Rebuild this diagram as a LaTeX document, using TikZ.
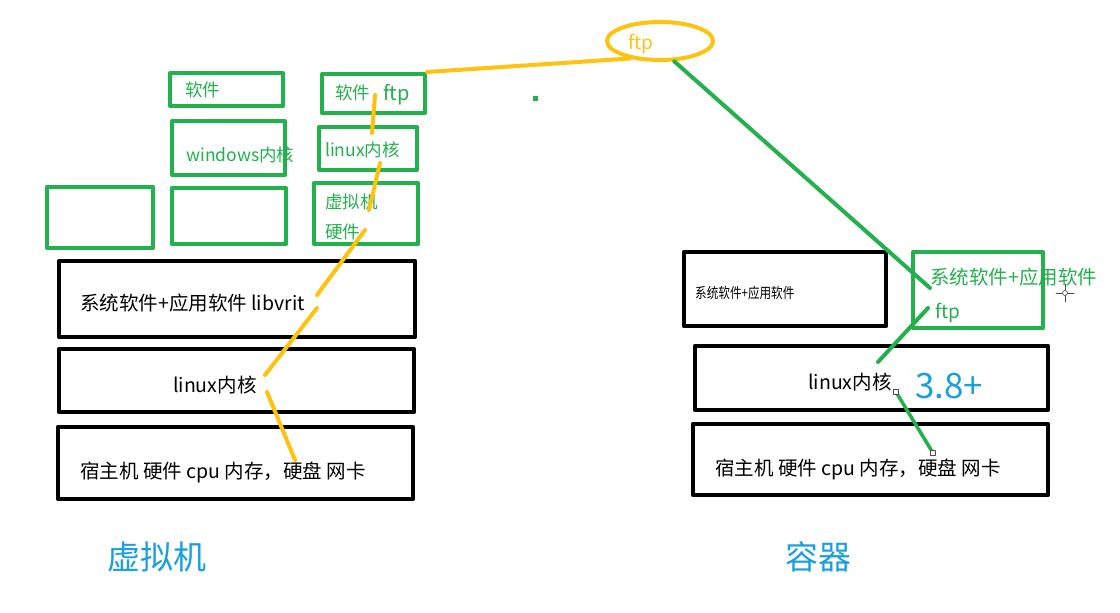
\documentclass[tikz,border=0pt]{standalone}
\usepackage{fontspec}
\setmainfont{Noto Sans CJK SC}
\usepackage{xcolor}
\usepackage{tikz}
\usetikzlibrary{positioning,shapes.geometric}

\definecolor{pgreen}{HTML}{22B14C}
\definecolor{pgold}{HTML}{FFC20E}
\definecolor{pblue}{HTML}{1A9FE0}

\newcommand{\fsz}[1]{\fontsize{#1}{#1}\selectfont}

\begin{document}
\begin{tikzpicture}[x=1pt, y=-1pt, line cap=round, line join=round,
		gbox/.style={draw=pgreen, line width=4pt, inner sep=0pt},
		bbox/.style={draw=black, line width=4.5pt, inner sep=0pt},
		gtxt/.style={text=pgreen, anchor=west, inner sep=0pt, font=\fsz{17.5}},
		btxt/.style={text=black, anchor=west, inner sep=0pt, font=\fsz{19.5}},
		title/.style={text=pblue, anchor=west, inner sep=0pt, font=\fsz{33}},
		goldline/.style={draw=pgold, line width=4pt},
		greenline/.style={draw=pgreen, line width=4pt},
		handle/.style={draw=black!70, fill=white, line width=0.6pt}]
		\useasboundingbox (0,0) rectangle (1120,613);
		
		\begin{scope}
			% guest systems on top of the host
			\node[gbox, minimum width=113, minimum height=33] (gsw) at (226.5,89.5) {};
			\node[gbox, minimum width=103, minimum height=39] (vmsw) at (373.5,93.5) {};
			\node[gbox, minimum width=113, minimum height=54] (winker) at (228.5,148) {};
			\node[gbox, minimum width=98, minimum height=43] (vmker) at (368,148.5) {};
			\node[gbox, minimum width=106, minimum height=61] (emptya) at (100,217.5) {};
			\node[gbox, minimum width=114, minimum height=56] (emptyb) at (229,216) {};
			\node[gbox, minimum width=104, minimum height=61] (vmhw) at (366,213.5) {};
			
			\node[gtxt] (gswt) at (185,90) {软件};
			\node[gtxt] (vmswt) at (335,93) {软件};
			\node[gtxt, font=\fsz{20}] (vmftp) at (383,95) {ftp};
			\node[gtxt] (winkert) at (186,155) {windows内核};
			\node[gtxt] (vmkert) at (325,150) {linux内核};
			\node[gtxt] (vmhwa) at (325,202) {虚拟机};
			\node[gtxt] (vmhwb) at (325,232) {硬件};
			
			% host layers
			\node[bbox, minimum width=356, minimum height=76] (vsys) at (237,299) {};
			\node[bbox, minimum width=355, minimum height=63] (vker) at (236.5,380.5) {};
			\node[bbox, minimum width=355, minimum height=72] (vhost) at (235.5,463) {};
			\node[btxt] (vsyst) at (80,303) {系统软件+应用软件 libvrit};
			\node[btxt] (vkert) at (173,385) {linux内核};
			\node[btxt] (vhostt) at (80,472) {宿主机 硬件 cpu 内存，硬盘 网卡};
			
			\node[title] (vmtitle) at (107,557) {虚拟机};
		\end{scope}
		
		\begin{scope}
			\node[bbox, minimum width=202, minimum height=74] (csys) at (785,289) {};
			\node[gbox, minimum width=130, minimum height=76] (capp) at (978,290) {};
			\node[bbox, minimum width=353, minimum height=64] (cker) at (871.5,378) {};
			\node[bbox, minimum width=355, minimum height=71] (chost) at (870.5,459.5) {};
			
			\node[btxt] (csyst) at (695,293) {\scalebox{0.8}[1]{\fsz{14.5}系统软件+应用软件}};
			\node[gtxt, font=\fsz{19.5}] (cappt) at (930,277) {系统软件+应用软件};
			\node[gtxt, font=\fsz{19}] (cftp) at (935,313) {ftp};
			\node[btxt] (ckert) at (808,382) {linux内核};
			\node[title, font=\fsz{35}] (cver) at (915,386) {3.8+};
			\node[btxt] (chostt) at (715,469) {宿主机 硬件 cpu 内存，硬盘 网卡};
			
			\node[title] (ctitle) at (785,557) {容器};
		\end{scope}
		
		% the shared ftp
		\node[ellipse, draw=pgold, line width=4pt, minimum width=106, minimum height=38] (ftpsrv) at (660,41) {};
		\node[gtxt, text=pgold, font=\fsz{19}] (ftpt) at (628,44) {ftp};
		\fill[pgreen] (533,96) rectangle (538,101);
		
		% freehand strokes
		\coordinate (ya) at (375,95);   \coordinate (yb) at (372,133);
		\coordinate (yc) at (380,163);  \coordinate (yd) at (369,210);
		\coordinate (ye) at (365,230);  \coordinate (yf) at (317,295);
		\coordinate (yg) at (317,308);  \coordinate (yh) at (265,375);
		\coordinate (yi) at (267,392);  \coordinate (yj) at (295,460);
		\draw[goldline] (vmsw.north east) -- (ftpsrv.210);
		\draw[goldline] (ya) -- (yb);
		\draw[goldline] (yc) -- (yd);
		\draw[goldline] (ye) -- (yf);
		\draw[goldline] (yg) -- (yh);
		\draw[goldline] (yi) -- (yj);
		
		\coordinate (ga) at (930,288);
		\coordinate (gb) at (928,308);  \coordinate (gc) at (878,362);
		\coordinate (gd) at (896,392);  \coordinate (ge) at (933,453);
		\draw[greenline] (ftpsrv.-55) -- (ga);
		\draw[greenline] (gb) -- (gc);
		\draw[greenline, line width=3.5pt] (gd) -- (ge);
		\draw[handle] ([shift={(-2.5,-2.5)}]gd) rectangle ([shift={(2.5,2.5)}]gd);
		\draw[handle] ([shift={(-2.5,-2.5)}]ge) rectangle ([shift={(2.5,2.5)}]ge);
		
		% cursor
		\coordinate (cur) at (1065,293);
		\draw[black!70, line width=0.7pt] (cur) circle (2.5);
		\draw[black!70, line width=0.7pt] ([xshift=-9]cur) -- ([xshift=-3]cur) ([xshift=3]cur) -- ([xshift=9]cur)
			([yshift=-9]cur) -- ([yshift=-3]cur) ([yshift=3]cur) -- ([yshift=9]cur);
	\end{tikzpicture}
\end{document}
